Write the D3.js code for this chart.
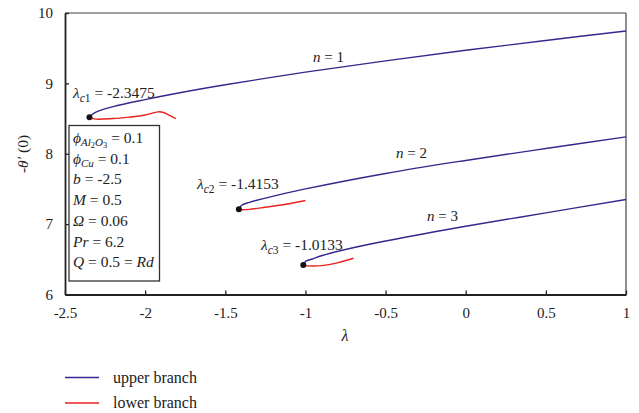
<!DOCTYPE html>
<html>
<head>
<meta charset="utf-8">
<script src="https://cdn.jsdelivr.net/npm/d3@7"></script>
<style>
  html, body { margin: 0; padding: 0; background: #fff; }
  svg { display: block; font-family: "Liberation Serif", "DejaVu Serif", serif; }
</style>
</head>
<body>
<svg id="chart" width="639" height="413"></svg>
<script>
// -θ'(0) against λ for n = 1, 2, 3: upper and lower solution branches
const xTicks = [-2.5, -2, -1.5, -1, -0.5, 0, 0.5, 1];
const xTickLabels = ["-2.5", "-2", "-1.5", "-1", "-0.5", "0", "0.5", "1"];
const yTicks = [6, 7, 8, 9, 10];
const yTickLabels = ["6", "7", "8", "9", "10"];

// critical points (λc, -θ'(0))
const criticalLambda = [-2.3475, -1.4153, -1.0133];
const criticalTheta = [8.52, 7.21, 6.42];

// upper branch, n = 1
const upper1Lambda = [-2.3475, -2.33, -2.3, -2.2, -2.0, -1.8, -1.5, -1.0, -0.5, 0, 0.5, 1.0];
const upper1Theta  = [8.52, 8.56, 8.60, 8.67, 8.77, 8.86, 8.98, 9.16, 9.32, 9.47, 9.61, 9.745];
// lower branch, n = 1
const lower1Lambda = [-2.3475, -2.32, -2.2, -2.1, -2.0, -1.92, -1.89, -1.85, -1.808];
const lower1Theta  = [8.52, 8.495, 8.50, 8.52, 8.55, 8.595, 8.59, 8.55, 8.50];

// upper branch, n = 2
const upper2Lambda = [-1.4153, -1.40, -1.35, -1.25, -1.0, -0.5, 0, 0.5, 1.0];
const upper2Theta  = [7.21, 7.265, 7.31, 7.37, 7.50, 7.72, 7.905, 8.075, 8.24];
// lower branch, n = 2
const lower2Lambda = [-1.4153, -1.40, -1.35, -1.25, -1.1, -1.0];
const lower2Theta  = [7.21, 7.205, 7.21, 7.24, 7.29, 7.335];

// upper branch, n = 3
const upper3Lambda = [-1.0133, -1.0, -0.95, -0.9, -0.75, -0.5, 0, 0.5, 1.0];
const upper3Theta  = [6.42, 6.47, 6.51, 6.55, 6.64, 6.76, 6.97, 7.16, 7.35];
// lower branch, n = 3
const lower3Lambda = [-1.0133, -1.0, -0.95, -0.9, -0.8, -0.7];
const lower3Theta  = [6.42, 6.41, 6.405, 6.41, 6.45, 6.515];

const upperColor = "#35288c";
const lowerColor = "#e8231f";

const svg = d3.select("#chart");
const x = d3.scaleLinear().domain([-2.5, 1]).range([65, 626]);
const y = d3.scaleLinear().domain([6, 10]).range([294.5, 13]);

const zip = (a, b) => a.map((v, i) => [v, b[i]]);
const line = d3.line().x(d => x(d[0])).y(d => y(d[1])).curve(d3.curveCatmullRom.alpha(0.5));

// frame (top and right)
svg.append("line").attr("x1", x(-2.5)).attr("x2", x(1)).attr("y1", y(10)).attr("y2", y(10))
  .attr("stroke", "#444").attr("stroke-width", 1.2);
svg.append("line").attr("x1", x(1)).attr("x2", x(1)).attr("y1", y(10)).attr("y2", y(6))
  .attr("stroke", "#444").attr("stroke-width", 1.2);

// axes with inward ticks
const xAxis = d3.axisBottom(x).tickValues(xTicks).tickFormat((d, i) => xTickLabels[i])
  .tickSizeInner(-4).tickSizeOuter(0).tickPadding(13);
const yAxis = d3.axisLeft(y).tickValues(yTicks).tickFormat((d, i) => yTickLabels[i])
  .tickSizeInner(-4).tickSizeOuter(0).tickPadding(12);

const gx = svg.append("g").attr("transform", `translate(0,${y(6)})`).call(xAxis);
const gy = svg.append("g").attr("transform", `translate(${x(-2.5)},0)`).call(yAxis);
[gx, gy].forEach(g => {
  g.select(".domain").attr("stroke", "#222").attr("stroke-width", 1.8);
  g.selectAll(".tick line").attr("stroke", "#222").attr("stroke-width", 1.3);
  g.selectAll(".tick text").attr("font-family", "Liberation Serif, serif")
    .attr("font-size", 15).attr("fill", "#222");
});

// axis titles
svg.append("text").attr("x", 345).attr("y", 341).attr("text-anchor", "middle")
  .attr("font-size", 16).attr("font-style", "italic").attr("fill", "#222").text("λ");
svg.append("text").attr("transform", "translate(28,154) rotate(-90)").attr("text-anchor", "middle")
  .attr("font-size", 15.5).attr("fill", "#222")
  .call(t => {
    t.append("tspan").text("-");
    t.append("tspan").attr("font-style", "italic").text("θ′");
    t.append("tspan").text(" (0)");
  });

// curves
const series = [
  [upper1Lambda, upper1Theta, upperColor], [lower1Lambda, lower1Theta, lowerColor],
  [upper2Lambda, upper2Theta, upperColor], [lower2Lambda, lower2Theta, lowerColor],
  [upper3Lambda, upper3Theta, upperColor], [lower3Lambda, lower3Theta, lowerColor]
];
svg.append("g").selectAll("path").data(series).join("path")
  .attr("d", s => line(zip(s[0], s[1])))
  .attr("fill", "none").attr("stroke", s => s[2]).attr("stroke-width", 1.4);

// critical point markers
svg.append("g").selectAll("circle").data(zip(criticalLambda, criticalTheta)).join("circle")
  .attr("cx", d => x(d[0])).attr("cy", d => y(d[1])).attr("r", 3).attr("fill", "#111");

// critical point labels
const critLabels = [
  { n: "1", v: "-2.3475", px: 73, py: 98 },
  { n: "2", v: "-1.4153", px: 197, py: 189 },
  { n: "3", v: "-1.0133", px: 261, py: 250 }
];
critLabels.forEach(c => {
  const t = svg.append("text").attr("x", c.px).attr("y", c.py).attr("font-size", 15.5).attr("fill", "#222");
  t.append("tspan").attr("font-style", "italic").text("λ");
  t.append("tspan").attr("dy", 4).attr("font-size", 11.5).attr("font-style", "italic").text("c");
  t.append("tspan").attr("font-size", 11.5).text(c.n);
  t.append("tspan").attr("dy", -4).text(" = " + c.v);
});

// n labels
const nLabels = [
  { n: "1", px: 313, py: 62 },
  { n: "2", px: 396, py: 158 },
  { n: "3", px: 427, py: 221 }
];
nLabels.forEach(c => {
  const t = svg.append("text").attr("x", c.px).attr("y", c.py).attr("font-size", 15).attr("fill", "#222");
  t.append("tspan").attr("font-style", "italic").text("n");
  t.append("tspan").text(" = " + c.n);
});

// parameter box
svg.append("rect").attr("x", 69).attr("y", 125.5).attr("width", 90.5).attr("height", 155.5)
  .attr("fill", "#fff").attr("stroke", "#333").attr("stroke-width", 1.3);
const params = [
  { sym: "ϕ", sub: [["Al", true, 0], ["2", false, 2], ["O", true, -2], ["3", false, 2]], val: " = 0.1" },
  { sym: "ϕ", sub: [["Cu", true, 0]], val: " = 0.1" },
  { sym: "b", val: " = -2.5" },
  { sym: "M", val: " = 0.5" },
  { sym: "Ω", val: " = 0.06" },
  { sym: "Pr", val: " = 6.2" },
  { sym: "Q", val: " = 0.5 = ", tail: "Rd" }
];
params.forEach((p, i) => {
  const t = svg.append("text").attr("x", 73).attr("y", 143 + i * 20.7)
    .attr("font-size", 15.5).attr("fill", "#222");
  t.append("tspan").attr("font-style", "italic").text(p.sym);
  let shift = 0;
  if (p.sub) {
    p.sub.forEach((s, j) => {
      const dy = (j === 0 ? 3 : s[2]);
      shift += dy;
      t.append("tspan").attr("dy", dy).attr("font-size", s[1] ? 11 : 8.5)
        .attr("font-style", s[1] ? "italic" : "normal").text(s[0]);
    });
  }
  t.append("tspan").attr("dy", -shift).text(p.val);
  if (p.tail) t.append("tspan").attr("font-style", "italic").text(p.tail);
});

// legend
const legend = [
  { label: "upper branch", color: upperColor, py: 377.5 },
  { label: "lower branch", color: lowerColor, py: 403 }
];
legend.forEach(l => {
  svg.append("line").attr("x1", 65).attr("x2", 99).attr("y1", l.py).attr("y2", l.py)
    .attr("stroke", l.color).attr("stroke-width", 1.3);
  svg.append("text").attr("x", 113).attr("y", l.py + 5).attr("font-size", 16)
    .attr("fill", "#222").text(l.label);
});
</script>
</body>
</html>
